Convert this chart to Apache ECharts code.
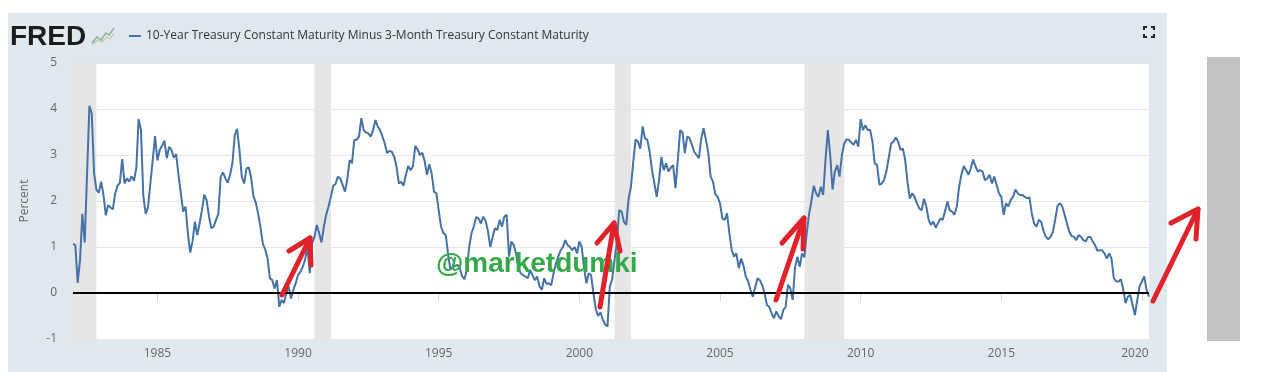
<!DOCTYPE html>
<html>
<head>
<meta charset="utf-8">
<script src="https://cdn.jsdelivr.net/npm/echarts@6/dist/echarts.min.js"></script>
<style>
  html, body { margin: 0; padding: 0; background: #ffffff; }
  #panel { position: absolute; left: 8px; top: 13px; width: 1159px; height: 359px; background: #e1e9f0; }
  #chart { position: absolute; left: 0; top: 0; width: 1266px; height: 372px; }
</style>
</head>
<body>
<div id="panel"></div>
<div id="chart"></div>
<script>
// ---- data (monthly, starting Jan 1982) ----
const startYear = 1982;
const seriesName = '10-Year Treasury Constant Maturity Minus 3-Month Treasury Constant Maturity';
const values = [
  // 1982
  1.07, 1.04, 0.22, 0.72, 1.72, 1.10, 2.6, 4.07, 3.9, 2.6, 2.24, 2.18,
  // 1983
  2.42, 2.13, 1.69, 1.91, 1.86, 1.82, 2.17, 2.33, 2.40, 2.91, 2.38, 2.49,
  // 1984
  2.42, 2.54, 2.44, 2.71, 3.78, 3.54, 2.11, 1.72, 1.86, 2.38, 2.89, 3.41,
  // 1985
  2.88, 3.11, 3.20, 3.31, 2.93, 3.18, 3.11, 2.94, 3.02, 2.57, 2.17, 1.77,
  // 1986
  1.88, 1.30, 0.88, 1.12, 1.55, 1.26, 1.51, 1.80, 2.14, 2.02, 1.66, 1.41,
  // 1987
  1.44, 1.59, 1.72, 2.53, 2.62, 2.49, 2.40, 2.57, 2.82, 3.43, 3.57, 3.11,
  // 1988
  2.53, 2.38, 2.71, 2.73, 2.50, 2.10, 1.96, 1.72, 1.42, 1.07, 0.94, 0.75,
  // 1989
  0.32, 0.28, 0.10, 0.28, -0.30, -0.15, -0.22, 0.0, 0.14, -0.12, 0.07, 0.21,
  // 1990
  0.39, 0.46, 0.57, 0.72, 1.0, 0.43, 1.08, 1.22, 1.48, 1.30, 1.10, 1.44,
  // 1991
  1.70, 1.88, 2.09, 2.33, 2.37, 2.53, 2.49, 2.35, 2.20, 2.46, 2.89, 2.82,
  // 1992
  3.33, 3.33, 3.40, 3.80, 3.54, 3.49, 3.47, 3.40, 3.54, 3.76, 3.62, 3.54,
  // 1993
  3.40, 3.25, 3.04, 3.09, 3.07, 2.96, 2.75, 2.38, 2.42, 2.33, 2.57, 2.76,
  // 1994
  2.67, 2.75, 3.20, 3.12, 3.00, 3.05, 2.87, 2.57, 2.80, 2.60, 2.20, 2.17,
  // 1995
  1.80, 1.44, 1.30, 1.26, 0.85, 0.50, 0.57, 0.59, 0.61, 0.54, 0.36, 0.30,
  // 1996
  0.50, 1.0, 1.30, 1.45, 1.65, 1.62, 1.51, 1.66, 1.57, 1.35, 1.0, 1.22,
  // 1997
  1.41, 1.37, 1.59, 1.44, 1.66, 1.70, 0.79, 1.12, 1.04, 0.86, 0.54, 0.43,
  // 1998
  0.39, 0.36, 0.32, 0.50, 0.39, 0.28, 0.36, 0.14, 0.07, 0.32, 0.20, 0.21,
  // 1999
  0.17, 0.43, 0.64, 0.79, 0.93, 1.0, 1.15, 1.04, 1.0, 0.93, 1.0, 0.86,
  // 2000
  1.12, 1.0, 0.55, 0.21, 0.43, 0.39, 0.0, -0.35, -0.50, -0.42, -0.58, -0.68,
  // 2001
  -0.73, 0.14, 0.30, 0.72, 1.10, 1.80, 1.77, 1.55, 1.48, 2.05, 2.31, 2.85,
  // 2002
  3.34, 3.29, 3.14, 3.62, 3.36, 3.33, 3.07, 2.67, 2.38, 2.09, 2.46, 2.96,
  // 2003
  2.67, 2.82, 2.64, 2.72, 2.78, 2.28, 2.89, 3.54, 3.49, 3.04, 3.40, 3.37,
  // 2004
  3.22, 3.07, 3.00, 2.93, 3.36, 3.58, 3.33, 3.04, 2.53, 2.42, 2.15, 2.09,
  // 2005
  1.95, 1.62, 1.59, 1.73, 1.30, 0.93, 0.79, 0.86, 0.54, 0.75, 0.60, 0.36,
  // 2006
  0.25, 0.07, -0.08, 0.12, 0.32, 0.28, 0.17, 0.0, -0.26, -0.30, -0.44, -0.55,
  // 2007
  -0.40, -0.51, -0.57, -0.37, -0.30, 0.18, 0.10, -0.15, 0.55, 0.79, 0.57, 0.86,
  // 2008
  0.78, 1.30, 1.72, 2.0, 2.33, 2.17, 2.09, 2.31, 2.13, 2.89, 3.54, 3.0,
  // 2009
  2.25, 2.64, 2.78, 2.53, 3.0, 3.25, 3.34, 3.33, 3.27, 3.22, 3.33, 3.18,
  // 2010
  3.78, 3.54, 3.65, 3.54, 3.55, 3.30, 2.82, 2.78, 2.35, 2.38, 2.46, 2.65,
  // 2011
  2.95, 3.25, 3.29, 3.38, 3.29, 3.11, 3.14, 2.89, 2.40, 2.05, 2.17, 2.09,
  // 2012
  1.95, 1.84, 1.80, 2.05, 1.88, 1.59, 1.48, 1.55, 1.42, 1.52, 1.62, 1.59,
  // 2013
  1.78, 1.99, 1.80, 1.77, 1.70, 1.88, 2.31, 2.58, 2.76, 2.67, 2.57, 2.71,
  // 2014
  2.90, 2.75, 2.64, 2.67, 2.64, 2.45, 2.49, 2.57, 2.38, 2.53, 2.35, 2.17,
  // 2015
  2.09, 1.70, 1.95, 1.88, 2.02, 2.09, 2.25, 2.17, 2.13, 2.13, 2.09, 2.06,
  // 2016
  2.08, 1.73, 1.51, 1.44, 1.59, 1.55, 1.35, 1.22, 1.17, 1.22, 1.33, 1.60,
  // 2017
  1.90, 1.95, 1.88, 1.70, 1.51, 1.33, 1.24, 1.22, 1.15, 1.26, 1.22, 1.15,
  // 2018
  1.12, 1.22, 1.22, 1.12, 1.04, 0.92, 0.93, 0.93, 0.86, 0.75, 0.86, 0.75,
  // 2019
  0.32, 0.25, 0.25, 0.30, 0.08, -0.22, -0.08, -0.04, -0.26, -0.48, -0.15, 0.15,
  // 2020
  0.25, 0.36, 0.05, -0.08
];
const recessionStarts = ['1981-08', '1990-08', '2001-04', '2008-01'];
const recessionEnds   = ['1982-11', '1991-03', '2001-11', '2009-06'];
const xTickYears = [1985, 1990, 1995, 2000, 2005, 2010, 2015, 2020];
const yMin = -1, yMax = 5, yStep = 1;
const watermark = '@marketdumki';
const logoText = 'FRED';

// ---- build ----
function ym(s) { const p = s.split('-'); return +p[0] + (+p[1] - 1) / 12; }
const xMin = startYear;
const xMax = startYear + (values.length - 1) / 12;
const lineData = values.map((v, i) => [startYear + i / 12, v]);
const bands = recessionStarts.map((s, i) => [
  { xAxis: Math.max(xMin, ym(s)) },
  { xAxis: Math.min(xMax, ym(recessionEnds[i])) }
]);

const red = '#e2222b';
function arrow(shaft, left, right) {
  const st = { stroke: red, lineWidth: 5, lineCap: 'round', lineJoin: 'round', fill: null };
  return [
    { type: 'polyline', shape: { points: shaft }, style: st, z: 100 },
    { type: 'polyline', shape: { points: [left, shaft[1], right] }, style: st, z: 100 }
  ];
}

const chart = echarts.init(document.getElementById('chart'), null, { renderer: 'canvas' });
const font = '"Open Sans", sans-serif';

chart.setOption({
  animation: false,
  backgroundColor: 'transparent',
  textStyle: { fontFamily: font },
  grid: { left: 73, right: 117, top: 63, bottom: 33, show: true, backgroundColor: '#ffffff', borderWidth: 0 },
  legend: {
    left: 124, top: 25,
    icon: 'rect', itemWidth: 12, itemHeight: 2,
    textStyle: { fontSize: 12, color: '#333333', fontFamily: font },
    data: [seriesName]
  },
  xAxis: {
    type: 'value', min: xMin, max: xMax,
    splitLine: { show: false },
    axisLine: { show: true, lineStyle: { color: '#ccd6eb', width: 1 } },
    axisTick: { show: true, length: 8, lineStyle: { color: '#ccd6eb' }, customValues: xTickYears },
    axisLabel: {
      customValues: xTickYears, margin: 9, fontSize: 12, color: '#666666', fontFamily: font,
      formatter: v => (Math.round(v) === xTickYears[xTickYears.length - 1] ? '{r|' + Math.round(v) + '}' : String(Math.round(v))),
      rich: { r: { padding: [0, 14, 0, 0], fontSize: 12, color: '#666666', fontFamily: font } }
    }
  },
  yAxis: {
    type: 'value', min: yMin, max: yMax, interval: yStep,
    name: 'Percent', nameLocation: 'middle', nameGap: 42,
    nameTextStyle: { fontSize: 12, color: '#666666', fontFamily: font },
    axisLine: { show: false }, axisTick: { show: false },
    axisLabel: { margin: 16, fontSize: 12, color: '#666666', fontFamily: font },
    splitLine: { show: true, lineStyle: { color: '#e6e6e6', width: 1 } }
  },
  series: [{
    name: seriesName,
    type: 'line',
    data: lineData,
    showSymbol: false, symbol: 'none',
    lineStyle: { color: '#4572a7', width: 2 },
    itemStyle: { color: '#4572a7' },
    z: 3,
    markArea: { silent: true, itemStyle: { color: '#e6e6e6' }, data: bands },
    markLine: {
      silent: true, symbol: 'none', label: { show: false },
      lineStyle: { color: '#000000', width: 2, type: 'solid' },
      data: [{ yAxis: 0 }]
    }
  }],
  graphic: [
    { type: 'text', left: 10, top: 23, z: 50,
      style: { text: logoText, font: 'bold 28px "Liberation Sans", Arial, sans-serif', fill: '#1d1d1b' } },
    { type: 'polyline', z: 50, shape: { points: [[92, 43], [97, 37], [101, 40], [106, 33], [109, 35], [114, 28]] },
      style: { stroke: '#8fae8f', lineWidth: 1.5, fill: null } },
    { type: 'polyline', z: 50, shape: { points: [[92, 45], [98, 40], [102, 42], [107, 37], [110, 39], [114, 33]] },
      style: { stroke: '#b9c7b9', lineWidth: 1.2, fill: null } },
    // fullscreen icon
    { type: 'polyline', z: 50, shape: { points: [[1144, 30], [1144, 27], [1147, 27]] }, style: { stroke: '#222', lineWidth: 2, fill: null } },
    { type: 'polyline', z: 50, shape: { points: [[1151, 27], [1154, 27], [1154, 30]] }, style: { stroke: '#222', lineWidth: 2, fill: null } },
    { type: 'polyline', z: 50, shape: { points: [[1144, 34], [1144, 37], [1147, 37]] }, style: { stroke: '#222', lineWidth: 2, fill: null } },
    { type: 'polyline', z: 50, shape: { points: [[1151, 37], [1154, 37], [1154, 34]] }, style: { stroke: '#222', lineWidth: 2, fill: null } },
    // grey block on the right
    { type: 'rect', z: 50, shape: { x: 1207, y: 57, width: 33, height: 284 }, style: { fill: '#c3c3c3' } },
    // watermark
    { type: 'text', z: 90, left: 436, top: 250,
      style: { text: watermark, font: 'bold 28px "Liberation Sans", Arial, sans-serif', fill: '#35a84a' } },
    // red arrows
    ...arrow([[282, 295], [310, 238]], [289, 251], [311, 265]),
    ...arrow([[600, 307], [614, 223]], [597, 243], [620, 251]),
    ...arrow([[776, 300], [804, 218]], [782, 243], [803, 249]),
    ...arrow([[1153, 301], [1198, 209]], [1171, 223], [1196, 239])
  ]
});
</script>
</body>
</html>
